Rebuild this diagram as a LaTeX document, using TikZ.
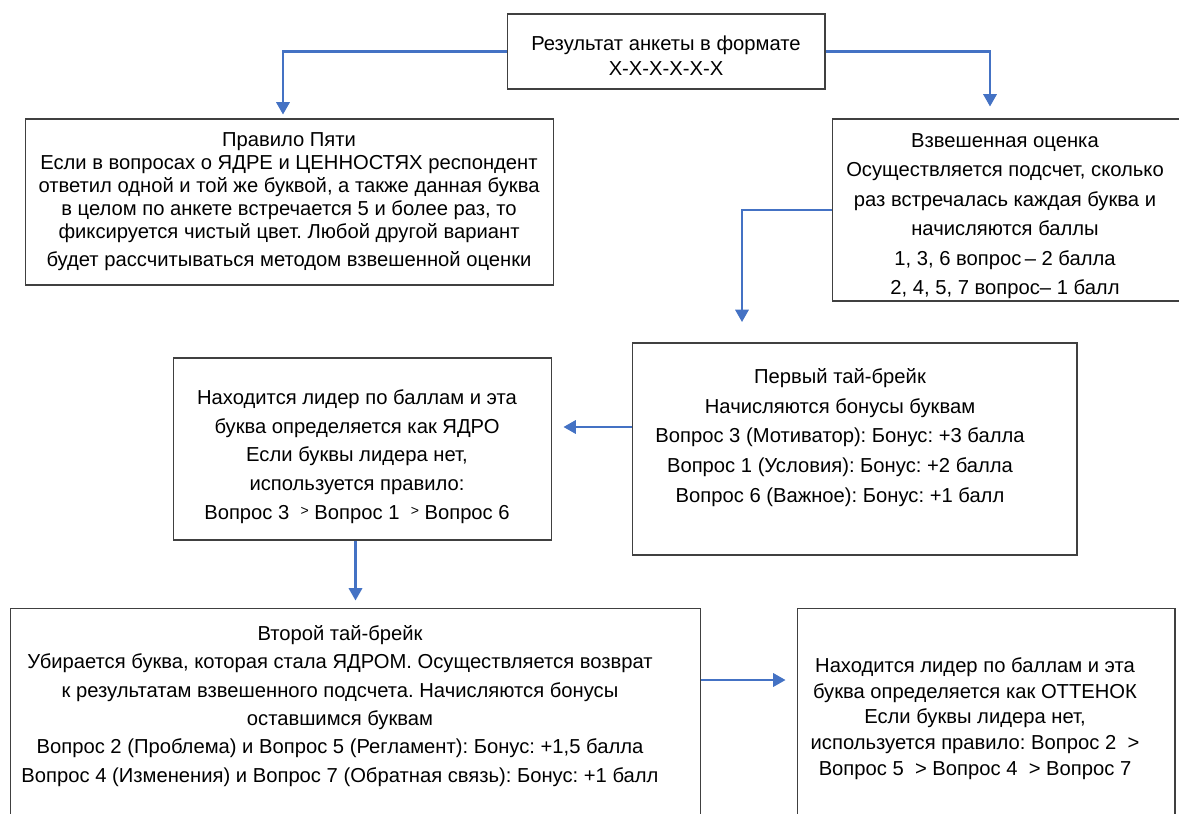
\documentclass[tikz,border=0pt]{standalone}
\usepackage{fontspec}
\setmainfont{Liberation Sans}
\definecolor{flowblue}{RGB}{68,114,196}
\definecolor{framegray}{RGB}{64,64,64}
\usetikzlibrary{arrows.meta,calc}
\frenchspacing

\begin{document}
\begin{tikzpicture}[x=0.02cm,y=-0.02cm,
  frame/.style={draw=framegray,line width=0.6pt,inner sep=0pt},
  txt/.style={align=center,inner sep=0pt,text=black},
  flow/.style={draw=flowblue,line width=1.2pt,
               -{Triangle[length=7pt,width=7.6pt]}}]
  \clip (0,0) rectangle (1179,814);
  \fill[white] (0,0) rectangle (1179,814);

  %% Survey result
  \node[frame,minimum width=6.36cm,minimum height=1.5cm]
        (survey) at (666,51.5) {};
  \node[txt,font=\fontsize{11.5}{14.2}\selectfont]
        (survey-t) at (666,55.5) {Результат анкеты в формате\\X-X-X-X-X-X};

  %% Rule of five
  \node[frame,minimum width=10.58cm,minimum height=3.32cm]
        (rule) at (289.5,202) {};
  \node[txt,font=\fontsize{11.5}{13}\selectfont] (rule-t) at (289,202)
        {Правило Пяти\\
         Если в вопросах о ЯДРЕ и ЦЕННОСТЯХ респондент\\
         ответил одной и той же буквой, а также данная буква\\
         в целом по анкете встречается 5 и более раз, то\\
         фиксируется чистый цвет. Любой другой вариант\\[3.4pt]
         будет рассчитываться методом взвешенной оценки};

  %% Weighted score
  \node[frame,minimum width=6.96cm,minimum height=3.64cm]
        (weigh) at (1006,210) {};
  \node[txt,font=\fontsize{11.5}{16.8}\selectfont] (weigh-t) at (1005,216)
        {Взвешенная оценка\\
         Осуществляется подсчет, сколько\\
         раз встречалась каждая буква и\\
         начисляются баллы\\
         1, 3, 6 вопрос\,– 2 балла\\
         2, 4, 5, 7 вопрос– 1 балл};

  %% First tie-break
  \node[frame,minimum width=8.9cm,minimum height=4.24cm]
        (tie1) at (854.5,449) {};
  \node[txt,font=\fontsize{11.5}{16.9}\selectfont] (tie1-t) at (840,437.5)
        {Первый тай-брейк\\
         Начисляются бонусы буквам\\
         Вопрос 3 (Мотиватор): Бонус: +3 балла\\
         Вопрос 1 (Условия): Бонус: +2 балла\\
         Вопрос 6 (Важное): Бонус: +1 балл};

  %% Core letter
  \node[frame,minimum width=7.58cm,minimum height=3.64cm]
        (core) at (362.5,449) {};
  \node[txt,font=\fontsize{11.5}{16.4}\selectfont] (core-t) at (357,456.5)
        {Находится лидер по баллам и эта\\
         буква определяется как ЯДРО\\
         Если буквы лидера нет,\\
         используется правило:\\
         Вопрос 3~ \raisebox{.35ex}{\footnotesize >} Вопрос 1~
         \raisebox{.35ex}{\footnotesize >} Вопрос 6};

  %% Second tie-break
  \node[frame,minimum width=13.82cm,minimum height=4.84cm]
        (tie2) at (355.5,729) {};
  \node[txt,font=\fontsize{11.5}{16.1}\selectfont] (tie2-t) at (340,706)
        {Второй тай-брейк\\
         Убирается буква, которая стала ЯДРОМ. Осуществляется возврат\\
         к результатам взвешенного подсчета. Начисляются бонусы\\
         оставшимся буквам\\
         Вопрос 2 (Проблема) и Вопрос 5 (Регламент): Бонус: +1,5 балла\\
         Вопрос 4 (Изменения) и Вопрос 7 (Обратная связь): Бонус: +1 балл};

  %% Shade letter
  \node[frame,minimum width=7.56cm,minimum height=4.84cm]
        (shade) at (986,729) {};
  \node[txt,font=\fontsize{11.5}{14.6}\selectfont] (shade-t) at (975,718.5)
        {Находится лидер по баллам и эта\\
         буква определяется как ОТТЕНОК\\
         Если буквы лидера нет,\\
         используется правило: Вопрос 2~ >\\
         Вопрос 5~ > Вопрос 4~ > Вопрос 7};

  %% Connectors
  \coordinate (drop) at (742,322);
  \draw[flow,shorten >=0.08cm] (survey.west) -| ($(rule.north)+(-6.5,0)$);
  \draw[flow,shorten >=0.24cm] (survey.east) -| ($(weigh.north)+(-16,0)$);
  \draw[flow] (weigh.west) -| (drop);
  \draw[flow,shorten >=0.22cm] ($(tie1.west)+(0,-22)$) -- ($(core.east)+(0,-22)$);
  \draw[flow,shorten >=0.14cm] (core.south -| tie2.north) -- (tie2.north);
  \draw[flow,shorten >=0.22cm] ($(tie2.east)+(0,-49)$) -- ($(shade.west)+(0,-49)$);
\end{tikzpicture}
\end{document}
